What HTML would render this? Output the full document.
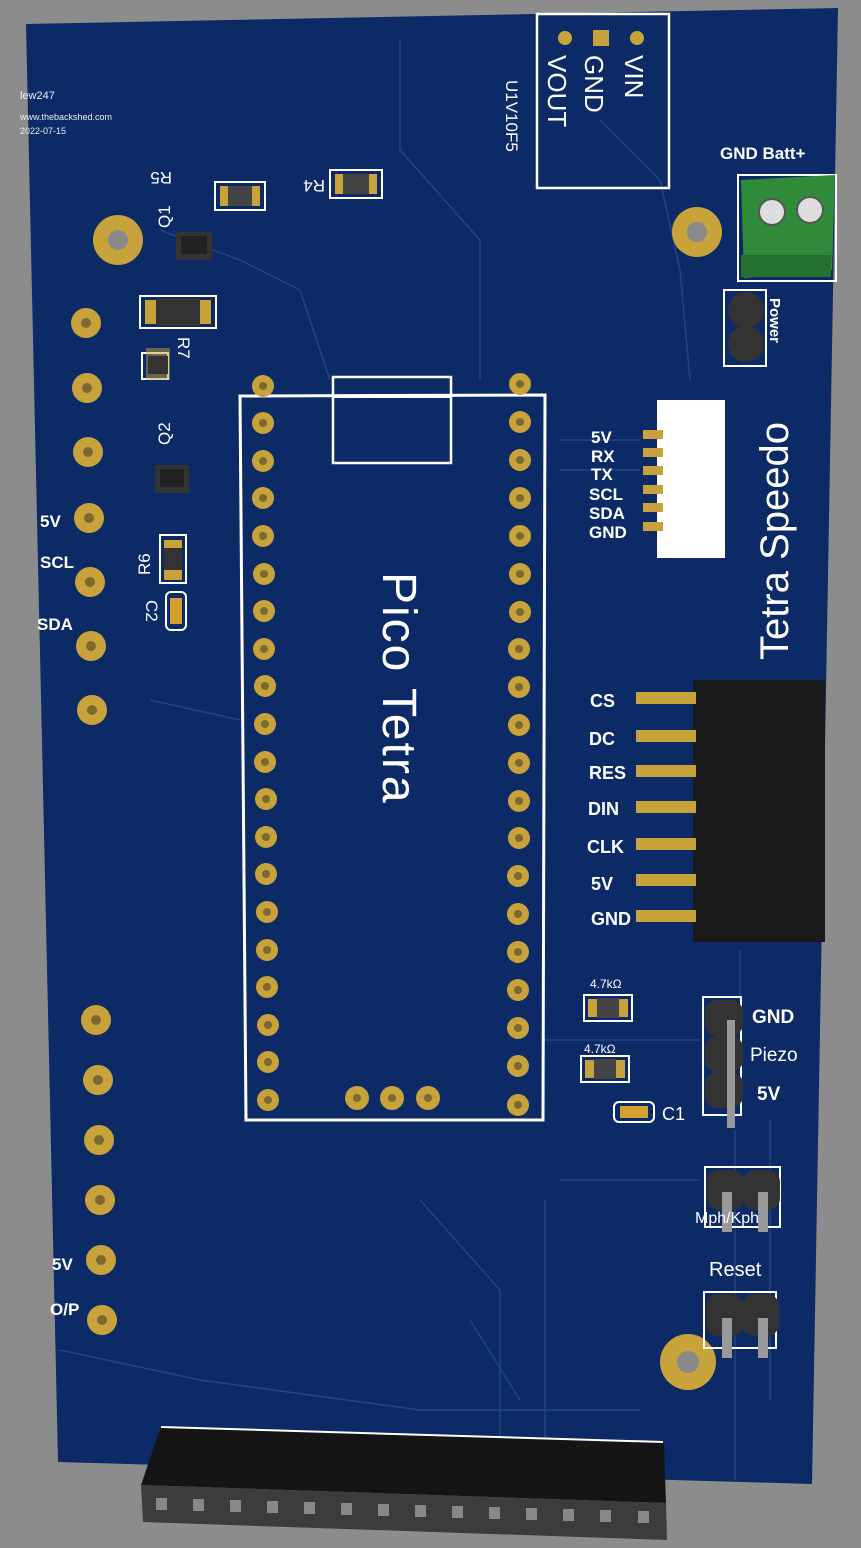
<!DOCTYPE html>
<html><head><meta charset="utf-8"><style>
html,body{margin:0;padding:0;background:#8c8c8c;}
svg{display:block}
text{font-family:"Liberation Sans",sans-serif;}
</style></head><body>
<svg width="861" height="1548" viewBox="0 0 861 1548" xmlns="http://www.w3.org/2000/svg">
<rect width="861" height="1548" fill="#8c8c8c"/>
<polygon points="26,24 838,8 812,1484 58,1462" fill="#0b2a66"/>
<g stroke="#2a4a8a" stroke-width="1.5" fill="none" opacity="0.8">
<path d="M400,40 L400,150 L480,240 L480,380"/>
<path d="M600,120 L660,180 L680,270 L690,380"/>
<path d="M160,230 L240,260 L300,290 L330,380"/>
<path d="M150,700 L240,720"/>
<path d="M540,1040 L700,1040"/>
<path d="M560,1180 L700,1180"/>
<path d="M60,1350 L200,1380 L420,1410 L640,1410"/>
<path d="M470,1320 L520,1400"/>
<path d="M735,1130 L735,1480"/>
<path d="M770,1120 L770,1400"/>
<path d="M420,1200 L500,1290 L500,1440"/>
<path d="M545,1200 L545,1440"/>
<path d="M740,950 L740,1000"/>
<path d="M560,440 L640,440"/>
<path d="M560,470 L640,470"/>
</g>
<text x="20" y="99" font-size="11" fill="#eee">lew247</text>
<text x="20" y="120" font-size="9" fill="#eee">www.thebackshed.com</text>
<text x="20" y="134" font-size="9" fill="#eee">2022-07-15</text>
<rect x="537" y="14" width="132" height="174" fill="none" stroke="#fff" stroke-width="2.5"/>
<circle cx="565" cy="38" r="7" fill="#c8a23a"/><rect x="593" y="30" width="16" height="16" fill="#c8a23a"/><circle cx="637" cy="38" r="7" fill="#c8a23a"/>
<g fill="#fff" font-size="26">
<text transform="translate(625,55) rotate(90)">VIN</text>
<text transform="translate(585,55) rotate(90)">GND</text>
<text transform="translate(548,55) rotate(90)">VOUT</text>
</g>
<text transform="translate(506,80) rotate(90)" font-size="17" fill="#fff">U1V10F5</text>
<text x="720" y="159" font-size="17" font-weight="bold" fill="#fff">GND Batt+</text>
<rect x="738" y="175" width="98" height="106" fill="none" stroke="#fff" stroke-width="2"/>
<polygon points="741,180 835,175 832,270 744,278" fill="#2f8a3a"/>
<rect x="741" y="255" width="90" height="22" fill="#25702e"/>
<circle cx="772" cy="212" r="13" fill="#ddd" stroke="#555" stroke-width="2"/>
<circle cx="810" cy="210" r="13" fill="#ddd" stroke="#555" stroke-width="2"/>
<rect x="724" y="290" width="42" height="76" fill="none" stroke="#fff" stroke-width="2"/>
<circle cx="746" cy="310" r="18" fill="#333"/><circle cx="746" cy="344" r="18" fill="#333"/>
<text transform="translate(770,298) rotate(90)" font-size="15" font-weight="bold" fill="#fff">Power</text>
<circle cx="118" cy="240" r="25" fill="#c8a23a"/><circle cx="118" cy="240" r="10" fill="#8a8a8a"/>
<circle cx="697" cy="232" r="25" fill="#c8a23a"/><circle cx="697" cy="232" r="10" fill="#8a8a8a"/>
<circle cx="688" cy="1362" r="28" fill="#c8a23a"/><circle cx="688" cy="1362" r="11" fill="#8a8a8a"/>
<g fill="#c8a23a">
<circle cx="86" cy="323" r="15"/><circle cx="87" cy="388" r="15"/><circle cx="88" cy="452" r="15"/><circle cx="89" cy="518" r="15"/><circle cx="90" cy="582" r="15"/><circle cx="91" cy="646" r="15"/><circle cx="92" cy="710" r="15"/>
<circle cx="96" cy="1020" r="15"/><circle cx="98" cy="1080" r="15"/><circle cx="99" cy="1140" r="15"/><circle cx="100" cy="1200" r="15"/><circle cx="101" cy="1260" r="15"/><circle cx="102" cy="1320" r="15"/>
</g>
<g fill="#7a6a30">
<circle cx="86" cy="323" r="5"/><circle cx="87" cy="388" r="5"/><circle cx="88" cy="452" r="5"/><circle cx="89" cy="518" r="5"/><circle cx="90" cy="582" r="5"/><circle cx="91" cy="646" r="5"/><circle cx="92" cy="710" r="5"/>
<circle cx="96" cy="1020" r="5"/><circle cx="98" cy="1080" r="5"/><circle cx="99" cy="1140" r="5"/><circle cx="100" cy="1200" r="5"/><circle cx="101" cy="1260" r="5"/><circle cx="102" cy="1320" r="5"/>
</g>
<g fill="#fff" font-size="17" font-weight="bold">
<text x="40" y="527">5V</text><text x="40" y="568">SCL</text><text x="37" y="630">SDA</text>
<text x="52" y="1270">5V</text><text x="50" y="1315">O/P</text>
</g>
<g>
<rect x="215" y="182" width="50" height="28" fill="none" stroke="#fff" stroke-width="2"/><rect x="220" y="186" width="40" height="20" fill="#c8a23a"/><rect x="228" y="186" width="24" height="20" fill="#444"/>
<rect x="330" y="170" width="52" height="28" fill="none" stroke="#fff" stroke-width="2"/><rect x="335" y="174" width="42" height="20" fill="#c8a23a"/><rect x="343" y="174" width="26" height="20" fill="#444"/>
<rect x="140" y="296" width="76" height="32" fill="none" stroke="#fff" stroke-width="2"/><rect x="145" y="300" width="66" height="24" fill="#c8a23a"/><rect x="156" y="298" width="44" height="28" fill="#333"/>
<rect x="142" y="353" width="26" height="26" fill="none" stroke="#fff" stroke-width="2"/>
<rect x="146" y="348" width="24" height="32" fill="#c8a23a" opacity="0.5"/><rect x="148" y="356" width="20" height="18" fill="#333"/>
<rect x="160" y="535" width="26" height="48" fill="none" stroke="#fff" stroke-width="2"/><rect x="164" y="540" width="18" height="40" fill="#c8a23a"/><rect x="164" y="548" width="18" height="22" fill="#333"/>
<rect x="166" y="592" width="20" height="38" rx="5" fill="none" stroke="#fff" stroke-width="2"/><rect x="170" y="598" width="12" height="26" fill="#d4a030"/>
<rect x="176" y="232" width="36" height="28" fill="#333"/><rect x="181" y="236" width="26" height="18" fill="#222"/>
<rect x="155" y="465" width="34" height="28" fill="#333"/><rect x="160" y="469" width="24" height="18" fill="#222"/>
</g>
<g fill="#fff" font-size="17">
<text transform="translate(172,172) rotate(180)">R5</text>
<text transform="translate(325,180) rotate(180)">R4</text>
<text transform="translate(170,228) rotate(-90)">Q1</text>
<text transform="translate(178,337) rotate(90)">R7</text>
<text transform="translate(170,445) rotate(-90)">Q2</text>
<text transform="translate(150,575) rotate(-90)">R6</text>
<text transform="translate(146,600) rotate(90)">C2</text>
</g>
<polygon points="240,396 545,395 543,1120 246,1120" fill="none" stroke="#fff" stroke-width="3"/>
<rect x="333" y="377" width="118" height="86" fill="none" stroke="#fff" stroke-width="2.5"/>
<line x1="333" y1="397" x2="451" y2="397" stroke="#fff" stroke-width="2"/>
<g fill="#c8a23a">
<circle cx="263" cy="386" r="11"/><circle cx="263" cy="423" r="11"/><circle cx="263" cy="461" r="11"/><circle cx="263" cy="498" r="11"/><circle cx="263" cy="536" r="11"/><circle cx="264" cy="574" r="11"/><circle cx="264" cy="611" r="11"/><circle cx="264" cy="649" r="11"/><circle cx="265" cy="686" r="11"/><circle cx="265" cy="724" r="11"/><circle cx="265" cy="762" r="11"/><circle cx="266" cy="799" r="11"/><circle cx="266" cy="837" r="11"/><circle cx="266" cy="874" r="11"/><circle cx="267" cy="912" r="11"/><circle cx="267" cy="950" r="11"/><circle cx="267" cy="987" r="11"/><circle cx="268" cy="1025" r="11"/><circle cx="268" cy="1062" r="11"/><circle cx="268" cy="1100" r="11"/>
<circle cx="520" cy="384" r="11"/><circle cx="520" cy="422" r="11"/><circle cx="520" cy="460" r="11"/><circle cx="520" cy="498" r="11"/><circle cx="520" cy="536" r="11"/><circle cx="520" cy="574" r="11"/><circle cx="520" cy="612" r="11"/><circle cx="519" cy="649" r="11"/><circle cx="519" cy="687" r="11"/><circle cx="519" cy="725" r="11"/><circle cx="519" cy="763" r="11"/><circle cx="519" cy="801" r="11"/><circle cx="519" cy="838" r="11"/><circle cx="518" cy="876" r="11"/><circle cx="518" cy="914" r="11"/><circle cx="518" cy="952" r="11"/><circle cx="518" cy="990" r="11"/><circle cx="518" cy="1028" r="11"/><circle cx="518" cy="1066" r="11"/><circle cx="518" cy="1105" r="11"/>
<circle cx="357" cy="1098" r="12"/><circle cx="392" cy="1098" r="12"/><circle cx="428" cy="1098" r="12"/>
</g>
<g fill="#7a6a30">
<circle cx="263" cy="386" r="4"/><circle cx="263" cy="423" r="4"/><circle cx="263" cy="461" r="4"/><circle cx="263" cy="498" r="4"/><circle cx="263" cy="536" r="4"/><circle cx="264" cy="574" r="4"/><circle cx="264" cy="611" r="4"/><circle cx="264" cy="649" r="4"/><circle cx="265" cy="686" r="4"/><circle cx="265" cy="724" r="4"/><circle cx="265" cy="762" r="4"/><circle cx="266" cy="799" r="4"/><circle cx="266" cy="837" r="4"/><circle cx="266" cy="874" r="4"/><circle cx="267" cy="912" r="4"/><circle cx="267" cy="950" r="4"/><circle cx="267" cy="987" r="4"/><circle cx="268" cy="1025" r="4"/><circle cx="268" cy="1062" r="4"/><circle cx="268" cy="1100" r="4"/>
<circle cx="520" cy="384" r="4"/><circle cx="520" cy="422" r="4"/><circle cx="520" cy="460" r="4"/><circle cx="520" cy="498" r="4"/><circle cx="520" cy="536" r="4"/><circle cx="520" cy="574" r="4"/><circle cx="520" cy="612" r="4"/><circle cx="519" cy="649" r="4"/><circle cx="519" cy="687" r="4"/><circle cx="519" cy="725" r="4"/><circle cx="519" cy="763" r="4"/><circle cx="519" cy="801" r="4"/><circle cx="519" cy="838" r="4"/><circle cx="518" cy="876" r="4"/><circle cx="518" cy="914" r="4"/><circle cx="518" cy="952" r="4"/><circle cx="518" cy="990" r="4"/><circle cx="518" cy="1028" r="4"/><circle cx="518" cy="1066" r="4"/><circle cx="518" cy="1105" r="4"/>
<circle cx="357" cy="1098" r="4"/><circle cx="392" cy="1098" r="4"/><circle cx="428" cy="1098" r="4"/>
</g>
<text transform="translate(383,572) rotate(90)" font-size="48" fill="#fff" letter-spacing="2">Pico Tetra</text>
<rect x="657" y="400" width="68" height="158" fill="#fff"/>
<g fill="#c8a23a"><rect x="643" y="430" width="20" height="9"/><rect x="643" y="448" width="20" height="9"/><rect x="643" y="466" width="20" height="9"/><rect x="643" y="485" width="20" height="9"/><rect x="643" y="503" width="20" height="9"/><rect x="643" y="522" width="20" height="9"/></g>
<g fill="#fff" font-size="17" font-weight="bold">
<text x="591" y="443">5V</text><text x="591" y="462">RX</text><text x="591" y="480">TX</text><text x="589" y="500">SCL</text><text x="589" y="519">SDA</text><text x="589" y="538">GND</text>
</g>
<text transform="translate(788,660) rotate(-90)" font-size="40" fill="#fff">Tetra Speedo</text>
<rect x="693" y="680" width="132" height="262" fill="#1a1a1a"/>
<g fill="#c8a23a">
<rect x="636" y="692" width="60" height="12"/><rect x="636" y="730" width="60" height="12"/><rect x="636" y="765" width="60" height="12"/><rect x="636" y="801" width="60" height="12"/><rect x="636" y="838" width="60" height="12"/><rect x="636" y="874" width="60" height="12"/><rect x="636" y="910" width="60" height="12"/>
</g>
<g fill="#fff" font-size="18" font-weight="bold">
<text x="590" y="707">CS</text><text x="589" y="745">DC</text><text x="589" y="779">RES</text><text x="588" y="815">DIN</text><text x="587" y="853">CLK</text><text x="591" y="890">5V</text><text x="591" y="925">GND</text>
</g>
<text x="590" y="988" font-size="12" fill="#fff" font-family="Liberation Serif">4.7kΩ</text>
<rect x="584" y="995" width="48" height="26" fill="none" stroke="#fff" stroke-width="2"/><rect x="588" y="999" width="40" height="18" fill="#c8a23a"/><rect x="597" y="998" width="22" height="20" fill="#444"/>
<text x="584" y="1053" font-size="12" fill="#fff" font-family="Liberation Serif">4.7kΩ</text>
<rect x="581" y="1056" width="48" height="26" fill="none" stroke="#fff" stroke-width="2"/><rect x="585" y="1060" width="40" height="18" fill="#c8a23a"/><rect x="594" y="1059" width="22" height="20" fill="#444"/>
<rect x="614" y="1102" width="40" height="20" rx="5" fill="none" stroke="#fff" stroke-width="2"/><rect x="620" y="1106" width="28" height="12" fill="#d4a030"/>
<text x="662" y="1120" font-size="18" fill="#fff">C1</text>
<rect x="703" y="997" width="38" height="118" fill="none" stroke="#fff" stroke-width="2"/>
<rect x="705" y="1000" width="38" height="36" rx="12" fill="#333"/><rect x="705" y="1036" width="38" height="36" rx="12" fill="#333"/><rect x="705" y="1072" width="38" height="36" rx="12" fill="#333"/>
<rect x="727" y="1020" width="8" height="40" fill="#999"/><rect x="727" y="1056" width="8" height="38" fill="#999"/><rect x="727" y="1092" width="8" height="36" fill="#999"/>
<g fill="#fff" font-size="19"><text x="752" y="1023" font-weight="bold">GND</text><text x="750" y="1061">Piezo</text><text x="757" y="1100" font-weight="bold">5V</text></g>
<rect x="705" y="1167" width="75" height="60" fill="none" stroke="#fff" stroke-width="2"/>
<rect x="707" y="1170" width="37" height="40" rx="12" fill="#333"/><rect x="743" y="1170" width="37" height="40" rx="12" fill="#333"/>
<rect x="722" y="1192" width="10" height="40" fill="#999"/><rect x="758" y="1192" width="10" height="40" fill="#999"/>
<text x="695" y="1223" font-size="16" fill="#fff">Mph/Kph</text>
<text x="709" y="1276" font-size="20" fill="#fff">Reset</text>
<rect x="704" y="1292" width="72" height="56" fill="none" stroke="#fff" stroke-width="2"/>
<rect x="706" y="1294" width="37" height="42" rx="12" fill="#333"/><rect x="742" y="1294" width="37" height="42" rx="12" fill="#333"/>
<rect x="722" y="1318" width="10" height="40" fill="#999"/><rect x="758" y="1318" width="10" height="40" fill="#999"/>
<!-- bottom header -->
<polygon points="161,1426 664,1442 666,1503 141,1485" fill="#151515"/>
<line x1="161" y1="1427" x2="663" y2="1442" stroke="#fff" stroke-width="2"/>
<polygon points="141,1485 666,1503 667,1540 143,1522" fill="#3c3c3c"/>
<g fill="#888">
<rect x="156" y="1498" width="11" height="12"/><rect x="193" y="1499" width="11" height="12"/><rect x="230" y="1500" width="11" height="12"/><rect x="267" y="1501" width="11" height="12"/><rect x="304" y="1502" width="11" height="12"/><rect x="341" y="1503" width="11" height="12"/><rect x="378" y="1504" width="11" height="12"/><rect x="415" y="1505" width="11" height="12"/><rect x="452" y="1506" width="11" height="12"/><rect x="489" y="1507" width="11" height="12"/><rect x="526" y="1508" width="11" height="12"/><rect x="563" y="1509" width="11" height="12"/><rect x="600" y="1510" width="11" height="12"/><rect x="638" y="1511" width="11" height="12"/>
</g>
</svg>
</body></html>
